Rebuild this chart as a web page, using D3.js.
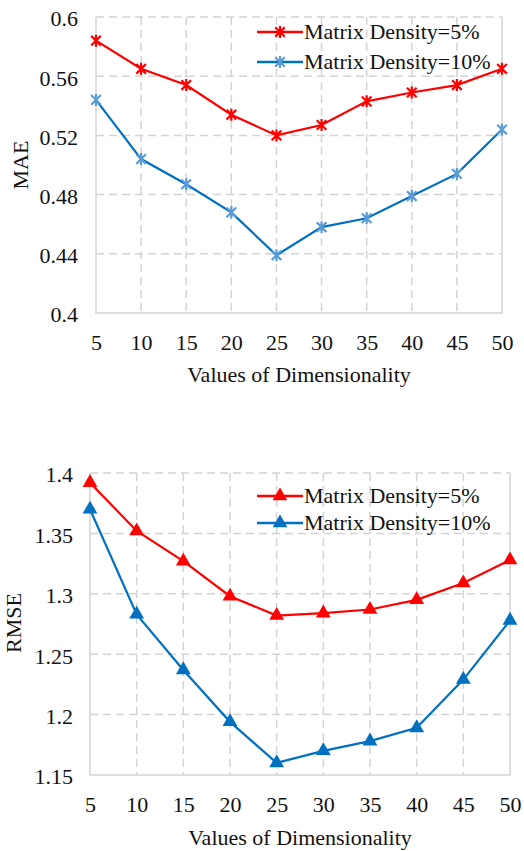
<!DOCTYPE html>
<html>
<head>
<meta charset="utf-8">
<script src="https://cdn.jsdelivr.net/npm/d3@7"></script>
<style>
  body { margin: 0; background: #fff; }
  svg text { font-family: "Liberation Serif", "Times New Roman", Times, serif; }
</style>
</head>
<body>
<div id="chart"></div>
<script>
const dims = [5, 10, 15, 20, 25, 30, 35, 40, 45, 50]

const mae5 = [0.584, 0.565, 0.554, 0.534, 0.520, 0.527, 0.543, 0.549, 0.554, 0.565]
const mae10 = [0.544, 0.504, 0.487, 0.468, 0.439, 0.458, 0.464, 0.479, 0.494, 0.524]
const rmse5 = [1.392, 1.352, 1.327, 1.298, 1.282, 1.284, 1.287, 1.295, 1.309, 1.328]
const rmse10 = [1.370, 1.283, 1.237, 1.194, 1.160, 1.170, 1.178, 1.189, 1.229, 1.278]

const maeTicks = [0.4, 0.44, 0.48, 0.52, 0.56, 0.6]
const rmseTicks = [1.15, 1.2, 1.25, 1.3, 1.35, 1.4]
const legendNames = ["Matrix Density=5%", "Matrix Density=10%"]

const RED = "#ff0000"
const BLUE = "#0070c0"
const GRID = "#d4d4d4"
const INK = "#111"

const svg = d3.select("#chart").append("svg")
    .attr("width", 524)
    .attr("height", 851)

// asterisk marker: vertical bar plus an X
function star(r) {
    return `M0,${-r}L0,${r}M${-r * 0.8},${-r * 0.8}L${r * 0.8},${r * 0.8}M${-r * 0.8},${r * 0.8}L${r * 0.8},${-r * 0.8}`
}
const triangle = d3.symbol().type(d3.symbolTriangle).size(95)()

function drawChart(cfg) {
    const g = svg.append("g")

    const x = d3.scaleLinear()
        .domain([5, 50])
        .range([cfg.left, cfg.right])

    const y = d3.scaleLinear()
        .domain(cfg.yDomain)
        .range([cfg.bottom, cfg.top])

    // dashed grid
    g.append("g").selectAll("line.v")
        .data(dims.slice(1, -1))
        .enter().append("line")
        .attr("x1", d => x(d)).attr("x2", d => x(d))
        .attr("y1", cfg.top).attr("y2", cfg.bottom)
        .attr("stroke", GRID).attr("stroke-width", 1.5)
        .attr("stroke-dasharray", "8,5")
    g.append("g").selectAll("line.h")
        .data(cfg.ticks.slice(1))
        .enter().append("line")
        .attr("x1", cfg.left).attr("x2", cfg.right)
        .attr("y1", d => y(d)).attr("y2", d => y(d))
        .attr("stroke", GRID).attr("stroke-width", 1.5)
        .attr("stroke-dasharray", "8,5")

    // solid frame left / bottom / right
    g.append("path")
        .attr("d", `M${cfg.left},${cfg.top}V${cfg.bottom}H${cfg.right}V${cfg.top}`)
        .attr("fill", "none")
        .attr("stroke", GRID)
        .attr("stroke-width", 1.5)

    // Axes (text only, like the original)
    const xAxis = d3.axisBottom(x).tickValues(dims).tickSize(0).tickPadding(0)
    const xg = g.append("g")
        .attr("transform", `translate(0, ${cfg.xLabelY})`)
        .call(xAxis)
    xg.attr("font-family", null).attr("font-size", null)
    xg.select(".domain").remove()
    xg.selectAll("text")
        .style("font-size", "22px")
        .attr("fill", INK)
        .attr("dy", 0)

    const yAxis = d3.axisLeft(y).tickValues(cfg.ticks).tickSize(0).tickPadding(0)
        .tickFormat(d => String(+d.toFixed(2)))
    const yg = g.append("g")
        .attr("transform", `translate(${cfg.yLabelX}, 0)`)
        .call(yAxis)
    yg.attr("font-family", null).attr("font-size", null)
    yg.select(".domain").remove()
    yg.selectAll("text")
        .style("font-size", "22px")
        .attr("fill", INK)
        .attr("dy", "0.4em")

    // Titles
    g.append("text")
        .attr("x", (cfg.left + cfg.right) / 2)
        .attr("y", cfg.xTitleY)
        .attr("text-anchor", "middle")
        .style("font-size", "22px")
        .attr("fill", INK)
        .text("Values of Dimensionality")
    g.append("text")
        .attr("transform", `translate(${cfg.yTitleX}, ${cfg.yTitleY}) rotate(-90)`)
        .attr("text-anchor", "middle")
        .style("font-size", "22px")
        .attr("fill", INK)
        .text(cfg.yTitle)

    const line = d3.line()
        .x((d, i) => x(dims[i]))
        .y(d => y(d))

    cfg.series.forEach(s => {
        g.append("path")
            .datum(s.values)
            .attr("d", line)
            .attr("fill", "none")
            .attr("stroke", s.color)
            .attr("stroke-width", 2.2)

        const pts = g.append("g").selectAll("path")
            .data(s.values)
            .enter().append("path")
            .attr("transform", (d, i) => `translate(${x(dims[i])}, ${y(d)})`)
        if (cfg.marker === "star") {
            pts.attr("d", star(6)).attr("fill", "none")
                .attr("stroke", s.markColor).attr("stroke-width", 2.2)
        } else {
            pts.attr("d", triangle).attr("fill", s.markColor)
        }
    })

    // Legend
    cfg.series.forEach((s, i) => {
        const ly = cfg.legendY[i]
        const lg = g.append("g")
        lg.append("line")
            .attr("x1", 257).attr("x2", 303)
            .attr("y1", ly).attr("y2", ly)
            .attr("stroke", s.color).attr("stroke-width", 2.5)
        const m = lg.append("path")
            .attr("transform", `translate(280, ${ly})`)
        if (cfg.marker === "star") {
            m.attr("d", star(6)).attr("fill", "none")
                .attr("stroke", s.markColor).attr("stroke-width", 2.2)
        } else {
            m.attr("d", triangle).attr("fill", s.markColor)
        }
        lg.append("text")
            .attr("x", 304)
            .attr("y", ly + 7)
            .style("font-size", "22px")
            .attr("fill", INK)
            .text(legendNames[i])
    })
}

drawChart({
    left: 96, right: 502, top: 17, bottom: 313,
    yDomain: [0.4, 0.6], ticks: maeTicks,
    xLabelY: 350, yLabelX: 78, xTitleY: 382,
    yTitle: "MAE", yTitleX: 28, yTitleY: 165,
    marker: "star",
    legendY: [32, 62],
    series: [
        { values: mae5, color: RED, markColor: RED },
        { values: mae10, color: BLUE, markColor: "#5b9bd5" }
    ]
})

drawChart({
    left: 90, right: 510, top: 473, bottom: 775,
    yDomain: [1.15, 1.4], ticks: rmseTicks,
    xLabelY: 812, yLabelX: 73, xTitleY: 845,
    yTitle: "RMSE", yTitleX: 21, yTitleY: 623,
    marker: "triangle",
    legendY: [496, 523],
    series: [
        { values: rmse5, color: RED, markColor: RED },
        { values: rmse10, color: BLUE, markColor: BLUE }
    ]
})
</script>
</body>
</html>
